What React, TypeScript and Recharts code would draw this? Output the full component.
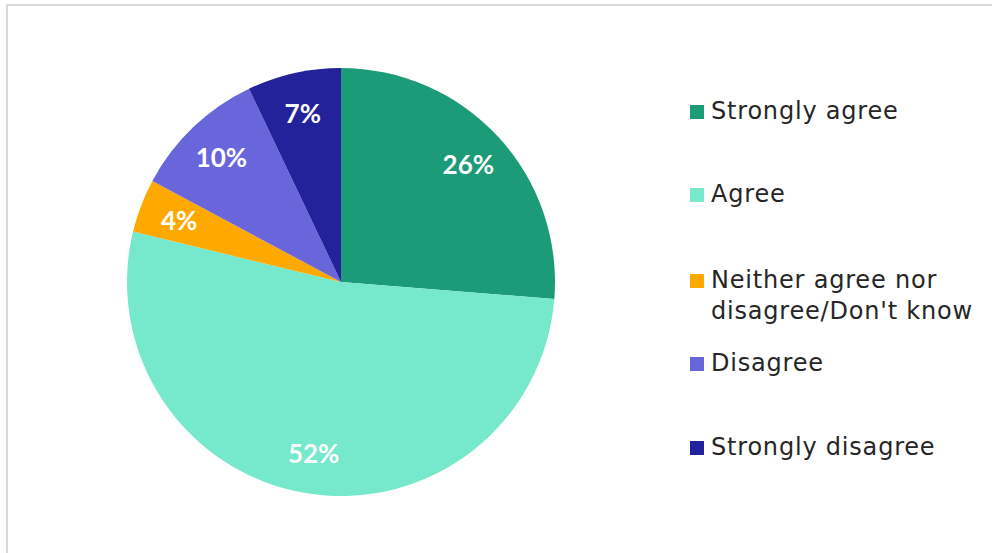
import { PieChart, Pie, Cell, Legend } from 'recharts';

const categories = [
  'Strongly agree',
  'Agree',
  "Neither agree nor disagree/Don't know",
  'Disagree',
  'Strongly disagree',
];
const shares = [26, 52, 4, 10, 7];
const colors = ['#1c9b78', '#76e8cb', '#ffa800', '#6966dc', '#23229b'];

// legend text split into lines as in the original
const legendLines = [
  ['Strongly agree'],
  ['Agree'],
  ['Neither agree nor', "disagree/Don't know"],
  ['Disagree'],
  ['Strongly disagree'],
];
const legendGaps = [0, 52, 55, 21, 53];

const rows = categories.map((name, i) => ({ name, value: shares[i], fill: colors[i] }));

const RAD = Math.PI / 180;

function renderLabel(props: any) {
  const { cx, cy, midAngle, outerRadius, value } = props;
  const r = outerRadius * 0.81;
  const x = cx + r * Math.cos(-midAngle * RAD);
  const y = cy + r * Math.sin(-midAngle * RAD);
  return (
    <text
      x={x}
      y={y}
      fill="#ffffff"
      fontSize={26}
      fontWeight={700}
      fontFamily="Lato, sans-serif"
      textAnchor="middle"
      dominantBaseline="central"
    >
      {`${value}%`}
    </text>
  );
}

function LegendBox() {
  return (
    <div
      style={{
        fontFamily: '"DejaVu Sans", sans-serif',
        fontSize: 24,
        letterSpacing: 0.8,
        color: '#262626',
      }}
    >
      {legendLines.map((lines, i) => (
        <div key={i} style={{ display: 'flex', marginTop: legendGaps[i], lineHeight: '31px' }}>
          <div
            style={{
              width: 14,
              height: 14,
              background: colors[i],
              marginTop: 9,
              marginRight: 7,
              flexShrink: 0,
            }}
          />
          <div>
            {lines.map((l) => (
              <div key={l} style={{ whiteSpace: 'nowrap' }}>
                {l}
              </div>
            ))}
          </div>
        </div>
      ))}
    </div>
  );
}

export default function App() {
  return (
    <div style={{ position: 'absolute', left: 0, top: 0, width: 992, height: 553, background: '#fff' }}>
      <div
        style={{
          position: 'absolute',
          left: 6,
          top: 4,
          width: 986,
          height: 549,
          borderLeft: '2px solid #d9d9d9',
          borderTop: '2px solid #d9d9d9',
          boxSizing: 'border-box',
        }}
      />
      <PieChart
        width={992}
        height={553}
        margin={{ top: 0, right: 0, bottom: 0, left: 0 }}
        style={{ position: 'absolute', left: 0, top: 0 }}
      >
        <Pie
          data={rows}
          dataKey="value"
          nameKey="name"
          cx={341}
          cy={282}
          outerRadius={214}
          startAngle={90}
          endAngle={-270}
          stroke="none"
          label={renderLabel}
          labelLine={false}
          isAnimationActive={false}
        >
          {rows.map((r) => (
            <Cell key={r.name} fill={r.fill} />
          ))}
        </Pie>
        <Legend
          layout="vertical"
          content={() => <LegendBox />}
          wrapperStyle={{ left: 690, top: 96, width: 300, bottom: 'auto', right: 'auto' }}
        />
      </PieChart>
    </div>
  );
}
